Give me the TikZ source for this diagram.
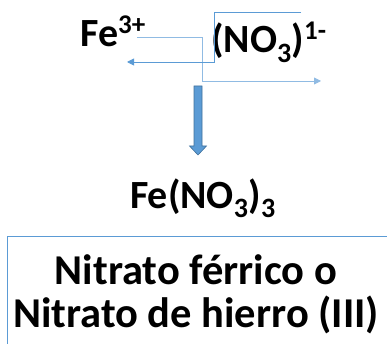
\documentclass[tikz,border=0pt]{standalone}
\usepackage{fontspec}
\setmainfont{Carlito}
\usetikzlibrary{arrows.meta}
\definecolor{lblue}{HTML}{5B9BD5}
\definecolor{pblue}{HTML}{9DC3E6}
\definecolor{dblue}{HTML}{41719C}
\tikzset{
  chem/.style={font=\bfseries\fontsize{40}{44}\selectfont, inner sep=0pt, anchor=base west},
  conn/.style={lblue, line width=0.9pt, -{Triangle[length=7pt,width=7pt]}},
  conn2/.style={conn, pblue!80!lblue},
  namefont/.style={font=\bfseries\fontsize{42.5}{48}\selectfont, inner sep=0pt, anchor=base},
}
\newcommand{\supx}[1]{\raisebox{0.34em}{\fontsize{27}{30}\selectfont\bfseries #1}}
\begin{document}
\begin{tikzpicture}[x=1pt,y=-1pt]
\useasboundingbox (0,0) rectangle (387,344);
\node[chem] (fe) at (80,47) {Fe\supx{3+}};
\node[chem] (no) at (211,53) {(NO\textsubscript{3})\supx{1-}};
\coordinate (feS) at (137,37);
\coordinate (feE) at (321,81);
\coordinate (noS) at (301,12);
\coordinate (noE) at (127,62);
\draw[conn2] (feS) -- (202,37) -- (202,81) -- (feE);
\draw[conn] (noS) -- (214,12) -- (214,62) -- (noE);
\draw[fill=lblue, draw=dblue, line width=0.6pt]
  (194,86) -- (202,86) -- (202,146) -- (206.5,146) -- (198,155) -- (189.5,146) -- (194,146) -- cycle;
\node[font=\bfseries\fontsize{40}{44}\selectfont, inner sep=0pt, anchor=base] (prod) at (203,208) {Fe(NO\textsubscript{3})\textsubscript{3}};
\draw[lblue, line width=0.9pt] (7,350) -- (7,236) -- (395,236);
\node[namefont] (name) at (196,284) {Nitrato férrico o};
\node[namefont] (name2) at (196,327) {Nitrato de hierro (III)};
\end{tikzpicture}
\end{document}
